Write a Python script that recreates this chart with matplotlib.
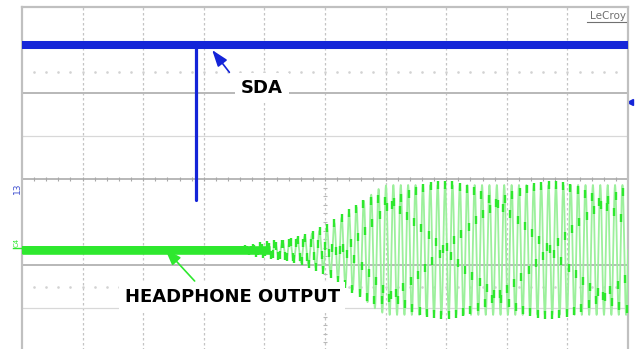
import numpy as np
from matplotlib import pyplot as plt

# scope screen is 10 x 8 divisions
SDA_LEVEL = 7.12
SDA_GLITCH_X = 2.87
SDA_GLITCH_LOW = 3.51

HP_CENTER = 2.35
# headphone output envelope (div, half amplitude in div)
env_x = [0.0, 3.60, 3.76, 4.09, 4.59, 5.03, 5.46, 5.86, 6.02, 10.0]
env_a = [0.0, 0.00, 0.04, 0.14, 0.28, 0.51, 0.93, 1.40, 1.51, 1.51]
CYCLES_PER_DIV = 8.2
SAMPLES_PER_CYCLE = 4.07

GRID = "#c4c4c4"
BLUE = "#1424d8"
GREEN = "#2ee82e"
PALE_GREEN = "#9cf09c"


def draw_screen(ax):
    for x in range(1, 10):
        ax.axvline(x, color=GRID, lw=0.9, ls=(0, (2, 2)), zorder=1)
    ax.axhline(6.0, color="#b8b8b8", lw=1.4, zorder=1)
    ax.axhline(2.0, color="#b8b8b8", lw=1.4, zorder=1)
    ax.axhline(5.0, color="#d8d8d8", lw=0.9, zorder=1)
    ax.axhline(1.0, color="#d8d8d8", lw=0.9, zorder=1)
    ax.axhline(4.0, color="#b8b8b8", lw=1.4, zorder=1)

    minor = np.arange(0.2, 10, 0.2)
    ax.plot(minor, np.full_like(minor, 4.0), ls="none", marker="|",
            ms=3.5, mew=0.8, color="#a8a8a8", zorder=1)
    for row in (6.5, 1.5):
        ax.plot(minor, np.full_like(minor, row), ls="none", marker="s",
                ms=0.8, color="#d2d2d2", zorder=1)
    ymin = np.arange(0.2, 4, 0.2)
    ax.plot(np.full_like(ymin, 5.0), ymin, ls="none", marker="_",
            ms=3.5, mew=0.8, color="#b8b8b8", zorder=1)

    for s in ("left", "right", "top"):
        ax.spines[s].set_color("#c0c0c0")
        ax.spines[s].set_linewidth(1.6)
    ax.spines["bottom"].set_visible(False)
    ax.set_xticks([])
    ax.set_yticks([])


def main():
    fig = plt.figure(figsize=(6.35, 3.49), dpi=100)
    ax = fig.add_axes([22 / 635, -2 / 349, 606 / 635, 344 / 349])
    ax.set_xlim(0, 10)
    ax.set_ylim(0, 8)
    draw_screen(ax)

    # SDA trace
    ax.plot([0, 10], [SDA_LEVEL, SDA_LEVEL], color=BLUE, lw=5.8,
            solid_capstyle="butt", zorder=4)
    ax.plot([SDA_GLITCH_X, SDA_GLITCH_X], [SDA_LEVEL, SDA_GLITCH_LOW],
            color=BLUE, lw=2.3, solid_capstyle="round", zorder=4)

    # headphone output
    t = np.linspace(0, 10, 20000)
    env = np.interp(t, env_x, env_a)
    wave = HP_CENTER + env * np.sin(2 * np.pi * CYCLES_PER_DIV * t)
    ax.plot(t, wave, color=PALE_GREEN, lw=1.3, zorder=3)
    ts = np.arange(0, 10, 1 / (CYCLES_PER_DIV * SAMPLES_PER_CYCLE))
    ws = HP_CENTER + np.interp(ts, env_x, env_a) * np.sin(2 * np.pi * CYCLES_PER_DIV * ts)
    ax.plot(ts, ws, ls="none", marker="|", ms=6, mew=1.7, color=GREEN, zorder=4)
    ax.plot([0, 4.1], [HP_CENTER, HP_CENTER], color=GREEN, lw=6.2,
            solid_capstyle="butt", zorder=4)

    # labels and arrows
    ax.annotate("", xy=(3.11, 7.05), xytext=(3.45, 6.43),
                arrowprops=dict(arrowstyle="-|>,head_length=1.0,head_width=0.35",
                                color=BLUE, lw=1.2), zorder=6)
    ax.text(3.96, 6.12, "SDA", fontsize=13, fontweight="bold", ha="center",
            va="center", zorder=7,
            bbox=dict(facecolor="white", edgecolor="none", pad=4))
    ax.annotate("", xy=(2.33, 2.42), xytext=(2.88, 1.58),
                arrowprops=dict(arrowstyle="-|>,head_length=1.0,head_width=0.35",
                                color=GREEN, lw=1.2), zorder=6)
    ax.text(3.47, 1.26, "HEADPHONE OUTPUT", fontsize=13, fontweight="bold",
            ha="center", va="center", zorder=7,
            bbox=dict(facecolor="white", edgecolor="none", pad=4))

    # scope decorations
    ax.text(9.96, 7.8, "LeCroy", fontsize=7.5, color="#707070", ha="right",
            va="center", zorder=7)
    ax.plot([9.33, 9.96], [7.64, 7.64], color="#707070", lw=0.8, zorder=7)
    ax.plot([10.04], [5.8], marker="<", ms=4, color=BLUE, clip_on=False)
    fig.text(17 / 635, 1 - 188 / 349, "13", fontsize=6.5, color="#4050d0",
             rotation=90, ha="center", va="center")
    fig.text(17 / 635, 1 - 242 / 349, "C4", fontsize=5, color=GREEN,
             rotation=90, ha="center", va="center")
    fig.lines.append(plt.Line2D([13 / 635, 21 / 635], [1 - 248 / 349] * 2,
                                color=GREEN, lw=1, transform=fig.transFigure))

    fig.savefig("out.png", dpi=100, facecolor="white")


if __name__ == "__main__":
    main()
